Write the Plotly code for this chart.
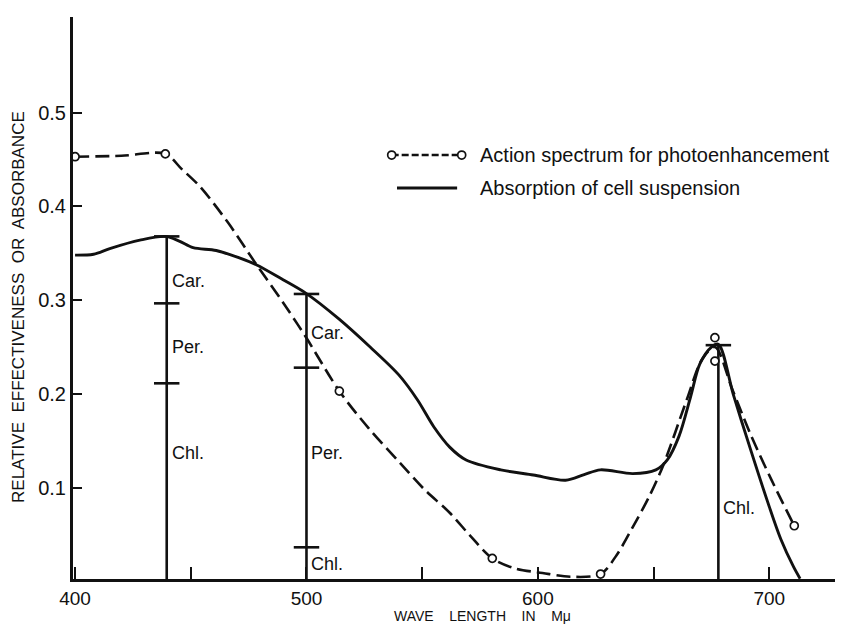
import plotly.graph_objects as go

# ---------------- data ----------------
# Absorption of cell suspension (solid curve)
abs_wl = [400, 408, 415, 428, 439, 445, 451, 461, 471, 478.5, 489, 500, 514, 527.5,
          540, 548, 555, 562, 569, 584, 598, 612, 620, 627, 641, 651, 656, 661,
          666, 670, 675, 678, 684.5, 692, 699, 705, 710.4, 713.3]
abs_val = [0.348, 0.349, 0.355, 0.364, 0.368, 0.363, 0.356, 0.353, 0.345, 0.3375, 0.323,
           0.307, 0.280, 0.250, 0.220, 0.1935, 0.165, 0.143, 0.1295, 0.119, 0.1135,
           0.108, 0.114, 0.119, 0.115, 0.119, 0.130, 0.155, 0.197, 0.232, 0.250,
           0.253, 0.199, 0.140, 0.087, 0.045, 0.016, 0.003]

# Action spectrum for photoenhancement (dashed curve)
act_curve_wl = [400, 420, 439, 446, 454, 466, 478.5, 490, 500, 514.2, 527, 540.4, 551,
                562, 571, 580.3, 590, 602, 614, 627.1, 634, 641, 648, 654.2, 664.3,
                671, 676.5, 684, 691.7, 701, 710.8]
act_curve_val = [0.453, 0.454, 0.456, 0.440, 0.421, 0.383, 0.3375, 0.297, 0.2596, 0.203,
                 0.163, 0.1265, 0.098, 0.073, 0.048, 0.0246, 0.014, 0.009, 0.005, 0.0079,
                 0.028, 0.058, 0.090, 0.124, 0.1935, 0.237, 0.250, 0.205, 0.158, 0.108,
                 0.0594]
# measured points (open circles)
act_pt_wl = [400, 439, 514.2, 580.3, 627.1, 676.5, 676.5, 710.8]
act_pt_val = [0.453, 0.456, 0.203, 0.0246, 0.0079, 0.260, 0.235, 0.0594]

# pigment contribution bars
bar_wl = [439.6, 500, 678]
bar_ticks = [[0.368, 0.2966, 0.2113], [0.3066, 0.228, 0.0364], [0.252]]
bar_labels = [["Car.", "Per.", "Chl."], ["Car.", "Per.", "Chl."], ["Chl."]]
bar_label_val = [[0.32, 0.25, 0.137], [0.265, 0.137, 0.019], [0.078]]

x_tick_vals = [400, 450, 500, 550, 600, 650, 700]
x_tick_text = ["400", "", "500", "", "600", "", "700"]
y_tick_vals = [0.1, 0.2, 0.3, 0.4, 0.5]
y_tick_text = ["0.1", "0.2", "0.3", "0.4", "0.5"]

legend_labels = ["Action spectrum for photoenhancement", "Absorption of cell suspension"]
x_title = "WAVE    LENGTH    IN    Mμ"
y_title = "RELATIVE  EFFECTIVENESS  OR  ABSORBANCE"

# ---------------- style ----------------
FONT = "Liberation Sans, Arial, sans-serif"
INK = "#111111"
TICK_HALF = 5.5  # half-width of bar cross ticks (nm)

fig = go.Figure()

fig.add_trace(go.Scatter(
    x=abs_wl, y=abs_val, mode="lines",
    line=dict(color=INK, width=2.9, shape="spline", smoothing=0.9),
    hoverinfo="skip"))

fig.add_trace(go.Scatter(
    x=act_curve_wl, y=act_curve_val, mode="lines",
    line=dict(color=INK, width=2.6, dash="14px,6px", shape="spline", smoothing=0.9),
    hoverinfo="skip"))

# bars built from arrays
bx, by = [], []
for wl, ticks in zip(bar_wl, bar_ticks):
    bx += [wl, wl, None]
    by += [0, max(ticks), None]
    for t in ticks:
        bx += [wl - TICK_HALF, wl + TICK_HALF, None]
        by += [t, t, None]
fig.add_trace(go.Scatter(x=bx, y=by, mode="lines",
                         line=dict(color=INK, width=2.6), hoverinfo="skip"))

fig.add_trace(go.Scatter(
    x=act_pt_wl, y=act_pt_val, mode="markers", cliponaxis=False,
    marker=dict(symbol="circle", size=8, color="white", line=dict(color=INK, width=1.7)),
    hoverinfo="skip"))

annotations = []
for wl, labs, vals in zip(bar_wl, bar_labels, bar_label_val):
    for lab, v in zip(labs, vals):
        annotations.append(dict(x=wl, y=v, xref="x", yref="y", text=lab, showarrow=False,
                                xanchor="left", yanchor="middle", xshift=3,
                                font=dict(family=FONT, size=18, color=INK)))

# legend (drawn manually)
leg_y = [0.7544, 0.6957]
leg_x0, leg_x1, leg_tx = 0.4182, 0.5101, 0.5311
shapes = [
    dict(type="line", xref="paper", yref="paper", x0=leg_x0, x1=leg_x1, y0=leg_y[0], y1=leg_y[0],
         line=dict(color=INK, width=2.6, dash="7px,3px")),
    dict(type="line", xref="paper", yref="paper", x0=leg_x0 + 0.007, x1=leg_x1 - 0.006,
         y0=leg_y[1], y1=leg_y[1], line=dict(color=INK, width=3)),
]
for cx in (leg_x0, leg_x1):
    shapes.append(dict(type="circle", xref="paper", yref="paper", xsizemode="pixel",
                       ysizemode="pixel", xanchor=cx, yanchor=leg_y[0],
                       x0=-4, x1=4, y0=-4, y1=4, fillcolor="white",
                       line=dict(color=INK, width=1.7)))
for lab, yy in zip(legend_labels, leg_y):
    annotations.append(dict(x=leg_tx, y=yy, xref="paper", yref="paper", text=lab,
                            showarrow=False, xanchor="left", yanchor="middle",
                            font=dict(family=FONT, size=20, color=INK)))

# axis titles
annotations.append(dict(x=0.538, y=-0.0665, xref="paper", yref="paper", text=x_title,
                        showarrow=False, xanchor="center", yanchor="middle",
                        font=dict(family=FONT, size=14, color=INK)))
annotations.append(dict(x=-0.0709, y=0.484, xref="paper", yref="paper", text=y_title,
                        showarrow=False, xanchor="center", yanchor="middle", textangle=-90,
                        font=dict(family=FONT, size=17, color=INK)))

fig.update_layout(
    width=843, height=627,
    margin=dict(l=73, r=8, t=17, b=48),
    paper_bgcolor="white", plot_bgcolor="white",
    showlegend=False,
    annotations=annotations, shapes=shapes,
    xaxis=dict(range=[399.1, 728.4], showgrid=False, zeroline=False,
               showline=True, linewidth=3, linecolor=INK,
               tickmode="array", tickvals=x_tick_vals, ticktext=x_tick_text,
               ticks="inside", ticklen=12, tickwidth=2, tickcolor=INK,
               tickfont=dict(family=FONT, size=19, color=INK)),
    yaxis=dict(range=[0.0026, 0.602], showgrid=False, zeroline=False,
               showline=True, linewidth=3, linecolor=INK,
               tickmode="array", tickvals=y_tick_vals, ticktext=y_tick_text,
               ticks="inside", ticklen=9, tickwidth=2, tickcolor=INK,
               tickfont=dict(family=FONT, size=20, color=INK)),
)

fig.write_html("out.html")
